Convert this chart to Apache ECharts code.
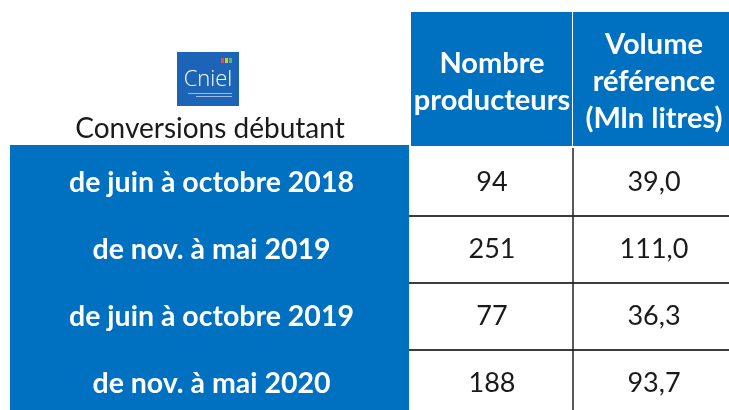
<!DOCTYPE html>
<html>
<head>
<meta charset="utf-8">
<script src="https://cdn.jsdelivr.net/npm/echarts@6/dist/echarts.min.js"></script>
<style>
  html, body { margin: 0; padding: 0; background: #fff; }
  #chart { width: 729px; height: 410px; }
</style>
</head>
<body>
<div id="chart"></div>
<script>
// données du tableau
const cornerTitle = 'Conversions débutant';
const headers = ['Nombre\nproducteurs', 'Volume\nréférence\n(Mln litres)'];
const periods = ['de juin à octobre 2018', 'de nov. à mai 2019', 'de juin à octobre 2019', 'de nov. à mai 2020'];
const producteurs = [94, 251, 77, 188];
const volumes = [39.0, 111.0, 36.3, 93.7];

const BLUE = '#0070c0';
const FONT = 'Lato';

// texte de chaque cellule (virgule décimale)
const cellText = (col, row) => col === 0
  ? String(producteurs[row])
  : volumes[row].toFixed(1).replace('.', ',');

const headerData = headers.map((h, i) => [i, 0]);
const periodData = periods.map((p, i) => [0, i]);
const valueData = [];
periods.forEach((p, r) => { headers.forEach((h, c) => valueData.push([c, r])); });

const chart = echarts.init(document.getElementById('chart'), null, { renderer: 'canvas' });

const option = {
  animation: false,
  grid: [
    { left: 411, top: 12, width: 324, height: 134, outerBoundsMode: 'none' },
    { left: 10, top: 149, width: 399, height: 268, outerBoundsMode: 'none' },
    { left: 411, top: 149, width: 324, height: 268, outerBoundsMode: 'none' }
  ],
  xAxis: [
    { gridIndex: 0, type: 'category', data: headers, show: false },
    { gridIndex: 1, type: 'category', data: ['période'], show: false },
    { gridIndex: 2, type: 'category', data: headers, show: false }
  ],
  yAxis: [
    { gridIndex: 0, type: 'category', data: ['en-tête'], show: false },
    { gridIndex: 1, type: 'category', data: periods, inverse: true, show: false },
    { gridIndex: 2, type: 'category', data: periods, inverse: true, show: false }
  ],
  graphic: [
    // logo Cniel
    { type: 'rect', left: 177, top: 52, shape: { width: 62, height: 54 }, style: { fill: '#1b64b8' } },
    { type: 'rect', left: 221, top: 58, shape: { width: 3, height: 5 }, style: { fill: '#e84a3c' } },
    { type: 'rect', left: 225, top: 58, shape: { width: 3, height: 5 }, style: { fill: '#f5c400' } },
    { type: 'rect', left: 229, top: 58, shape: { width: 3, height: 5 }, style: { fill: '#5cb85c' } },
    { type: 'text', x: 208, y: 80, style: { text: 'Cniel', fill: '#fff', font: '300 22px "Open Sans"', align: 'center', verticalAlign: 'middle' } },
    { type: 'rect', left: 188, top: 93, shape: { width: 44, height: 1 }, style: { fill: '#9fbde3' } },
    { type: 'rect', left: 196, top: 96, shape: { width: 36, height: 1 }, style: { fill: '#9fbde3' } },
    {
      type: 'text', x: 210, y: 129,
      style: { text: cornerTitle, fill: '#1a1a1a', font: '28px ' + FONT, align: 'center', verticalAlign: 'middle' }
    }
  ],
  series: [
    {
      type: 'custom', xAxisIndex: 0, yAxisIndex: 0, data: headerData,
      renderItem: (params, api) => {
        const p = api.coord([api.value(0), api.value(1)]);
        const s = api.size([1, 1]);
        return {
          type: 'group',
          children: [
            { type: 'rect', shape: { x: p[0] - s[0] / 2, y: p[1] - s[1] / 2, width: s[0] - 1, height: s[1] }, style: { fill: BLUE } },
            {
              type: 'text', x: p[0], y: p[1] + 3,
              style: {
                text: headers[params.dataIndex], fill: '#fff', font: 'bold 29px ' + FONT,
                align: 'center', verticalAlign: 'middle', lineHeight: 37
              }
            }
          ]
        };
      }
    },
    {
      type: 'custom', xAxisIndex: 1, yAxisIndex: 1, data: periodData,
      renderItem: (params, api) => {
        const p = api.coord([api.value(0), api.value(1)]);
        const s = api.size([1, 1]);
        return {
          type: 'group',
          children: [
            { type: 'rect', shape: { x: p[0] - s[0] / 2, y: p[1] - s[1] / 2 - 4, width: s[0], height: s[1] + 4 }, style: { fill: BLUE } },
            {
              type: 'text', x: p[0] + 2, y: p[1],
              style: { text: periods[params.dataIndex], fill: '#fff', font: 'bold 28.5px ' + FONT, align: 'center', verticalAlign: 'middle' }
            }
          ]
        };
      }
    },
    {
      type: 'custom', xAxisIndex: 2, yAxisIndex: 2, data: valueData,
      renderItem: (params, api) => {
        const col = api.value(0), row = api.value(1);
        const p = api.coord([col, row]);
        const s = api.size([1, 1]);
        const x0 = p[0] - s[0] / 2, y0 = p[1] - s[1] / 2;
        const kids = [{
          type: 'text', x: p[0], y: p[1],
          style: { text: cellText(col, row), fill: '#1a1a1a', font: '27px ' + FONT, align: 'center', verticalAlign: 'middle' }
        }];
        if (row > 0) {
          kids.push({ type: 'line', shape: { x1: x0 - (col === 0 ? 2 : 0), y1: y0, x2: x0 + s[0], y2: y0 }, style: { stroke: '#3c3c3c', lineWidth: 2 } });
        }
        if (col === 1) {
          kids.push({ type: 'line', shape: { x1: x0, y1: y0 - 1, x2: x0, y2: y0 + s[1] }, style: { stroke: '#222', lineWidth: 1.5 } });
        }
        return { type: 'group', children: kids };
      }
    }
  ]
};

chart.setOption(option);
</script>
</body>
</html>
